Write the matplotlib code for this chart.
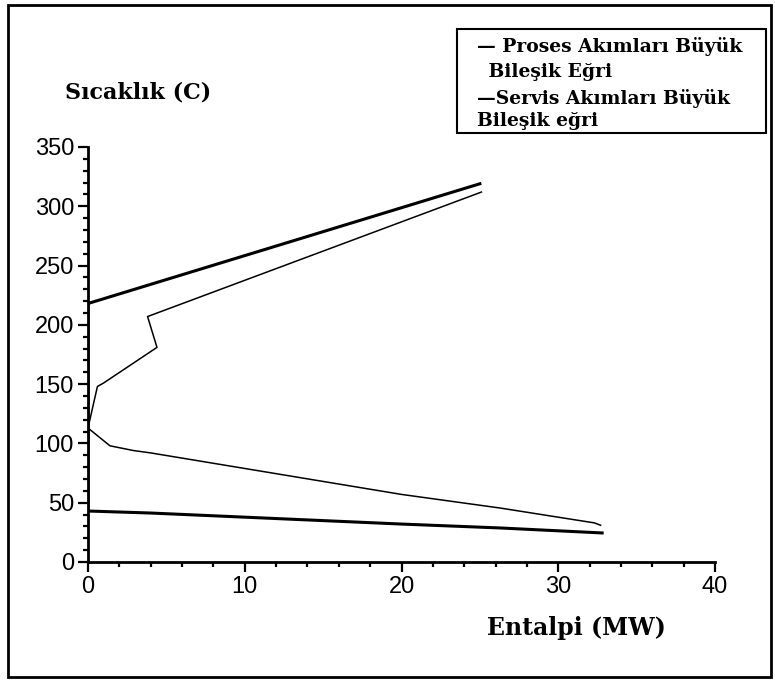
import matplotlib
matplotlib.use("Agg")
import matplotlib.pyplot as plt
from matplotlib.patches import Rectangle
from matplotlib.ticker import MultipleLocator

# Proses akımları büyük bileşik eğri (ince çizgi)
proses_h = [25.1, 3.8, 4.4, 1.0, 0.6, 0.0, 1.4, 2.9, 4.0, 20.0, 26.3, 32.3, 32.7]
proses_t = [312, 207, 181, 151, 148, 113, 98, 94, 92, 57, 45.5, 33, 31]

# Servis akımları büyük bileşik eğri (kalın çizgi)
servis_h = [25.0, 0.0, 0.0, 4.0, 20.0, 26.3, 32.8]
servis_t = [319, 218, 43, 41.3, 32, 28.7, 24.5]

legend_lines = ["— Proses Akımları Büyük", " Bileşik Eğri",
                "—Servis Akımları Büyük", "Bileşik eğri"]

W, H = 775, 680
fig = plt.figure(figsize=(W / 100, H / 100), dpi=100)
ax = fig.add_axes([88 / W, 1 - 562 / H, 627 / W, 415 / H])

ax.plot(proses_h, proses_t, color="black", lw=1.1)
ax.plot(servis_h, servis_t, color="black", lw=2.2)

ax.set_xlim(0, 40)
ax.set_ylim(0, 350)
ax.xaxis.set_major_locator(MultipleLocator(10))
ax.xaxis.set_minor_locator(MultipleLocator(2))
ax.yaxis.set_major_locator(MultipleLocator(50))
ax.yaxis.set_minor_locator(MultipleLocator(10))
for s in ["top", "right"]:
    ax.spines[s].set_visible(False)
for s in ["left", "bottom"]:
    ax.spines[s].set_linewidth(2)
ax.tick_params(which="major", length=7, width=1.6, direction="out", pad=3,
               labelsize=17)
ax.tick_params(which="minor", length=3.8, width=1.6, direction="out")
for lab in ax.get_xticklabels() + ax.get_yticklabels():
    lab.set_family("Liberation Sans")

serif = "DejaVu Serif"
fig.text(65 / W, 1 - 92 / H, "Sıcaklık (C)", family=serif, weight="bold",
         fontsize=16, va="center", ha="left")
fig.text(487 / W, 1 - 628 / H, "Entalpi (MW)", family=serif, weight="bold",
         fontsize=17, va="center", ha="left")

# dış çerçeve
fig.add_artist(Rectangle((8 / W, 1 - 677 / H), 763 / W, 672 / H,
                         transform=fig.transFigure, fill=False,
                         ec="black", lw=2))

# açıklama kutusu
fig.add_artist(Rectangle((457 / W, 1 - 133 / H), 309 / W, 104 / H,
                         transform=fig.transFigure, fill=False,
                         ec="black", lw=1.5))
ys = [47, 72, 98, 121]
xs = [477, 482, 477, 477]
for txt, x, y in zip(legend_lines, xs, ys):
    fig.text(x / W, 1 - y / H, txt, family=serif, weight="bold",
             fontsize=13.5, va="center", ha="left")

fig.savefig("out.png", dpi=100)
